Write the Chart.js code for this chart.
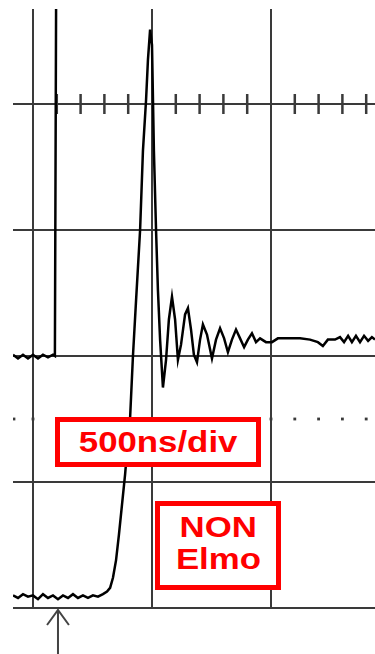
<!DOCTYPE html>
<html>
<head>
<meta charset="utf-8">
<script src="https://cdn.jsdelivr.net/npm/chart.js@4"></script>
<style>
  html, body { margin: 0; padding: 0; background: #fff; }
  #wrap { position: relative; width: 375px; height: 654px; overflow: hidden; }
  .box {
    position: absolute; box-sizing: border-box; border: 5px solid #f00;
    background: #fff; color: #f00; text-align: center;
    font-family: "Liberation Sans", Arial, sans-serif; font-weight: bold; font-size: 29px;
  }
  .box span { display: inline-block; transform: scaleX(1.2); }
  #b1 { left: 55px; top: 417px; width: 206px; height: 50px; line-height: 29px; padding-top: 6px; }
  #b2 { left: 155px; top: 501px; width: 126px; height: 89px; line-height: 32px; padding-top: 5px; }
</style>
</head>
<body>
<div id="wrap">
  <canvas id="scope" width="375" height="654"></canvas>
  <div class="box" id="b1"><span>500ns/div</span></div>
  <div class="box" id="b2"><span>NON</span><br><span>Elmo</span></div>
</div>
<script>
// time in ns, amplitude in divisions
var gridT = [0, 500, 1000];
var gridV = [0, 1, 2, 3, 4];
var minorT = [100, 200, 300, 400, 600, 700, 800, 900, 1100, 1200, 1300, 1400];
var dotT = [-80, 0, 100, 200, 300, 400, 500, 600, 700, 800, 900, 1000, 1100, 1200, 1300, 1400];

// command step (trace 1)
var stepT = [-84, -63, -42, -21, 0, 21, 42, 63, 84, 92, 97];
var stepV = [2.01, 1.98, 2.01, 1.98, 2.01, 1.98, 2.01, 1.99, 2.01, 2.0, 4.76];

// response (trace 2)
var respT = [-84, -63, -42, -21, 0, 21, 42, 63, 84, 105, 126, 147, 168, 189, 210, 231, 252, 273, 294,
  311, 324, 336, 349, 361, 374, 387, 399, 408, 420, 433, 450, 462, 475, 483, 492, 500, 508, 517, 525,
  534, 546, 559, 571, 584, 597, 609, 622, 639, 651, 664, 676, 689, 702, 714, 731, 752, 769, 786, 803,
  819, 836, 853, 870, 887, 903, 920, 937, 954, 979, 1004, 1029, 1080, 1122, 1164, 1197, 1218, 1239,
  1269, 1290, 1307, 1324, 1340, 1357, 1374, 1391, 1408, 1424, 1437];
var respV = [0.10, 0.08, 0.11, 0.09, 0.10, 0.07, 0.11, 0.08, 0.10, 0.07, 0.10, 0.08, 0.11, 0.08, 0.10, 0.08, 0.10, 0.09, 0.11,
  0.13, 0.16, 0.24, 0.38, 0.58, 0.82, 1.06, 1.33, 1.51, 2.00, 2.44, 3.00, 3.63, 4.03, 4.35, 4.59, 4.47, 3.63, 3.00, 2.52,
  2.13, 1.75, 1.97, 2.29, 2.47, 2.29, 1.97, 2.09, 2.33, 2.38, 2.21, 2.01, 1.95, 2.13, 2.25, 2.17, 1.98, 2.13, 2.22, 2.14,
  2.03, 2.13, 2.21, 2.14, 2.07, 2.13, 2.18, 2.11, 2.14, 2.11, 2.11, 2.14, 2.14, 2.14, 2.13, 2.11, 2.08, 2.13,
  2.13, 2.15, 2.11, 2.16, 2.11, 2.16, 2.11, 2.16, 2.12, 2.15, 2.13];

// trigger arrow under the screen
var arrowT = [105, 105];
var arrowV = [-0.02, -0.40];
var headT = [59, 105, 151];
var headV = [-0.135, -0.016, -0.135];

function pts(xs, ys){
  return xs.map(function(x, i){ return {x: x, y: ys[i]}; });
}

function fixed(list){
  return function(axis){
    axis.ticks = list.map(function(v){ return {value: v}; });
  };
}

var gridCol = '#3a3a3a';

var chart = new Chart(document.getElementById('scope'), {
  type: 'scatter',
  data: {
    datasets: [
      {data: pts(stepT, stepV), showLine: true, borderColor: '#000', borderWidth: 2.5, pointRadius: 0},
      {data: pts(respT, respV), showLine: true, borderColor: '#000', borderWidth: 2.5, pointRadius: 0, tension: 0},
      {data: dotT.map(function(t){ return {x: t, y: 1.5}; }), pointStyle: 'rect', pointRadius: 2,
        backgroundColor: gridCol, borderWidth: 0},
      {data: minorT.map(function(t){ return {x: t, y: 4}; }), pointStyle: 'line', rotation: 90, pointRadius: 10,
        borderColor: gridCol, borderWidth: 2.5},
      {data: pts(arrowT, arrowV), showLine: true, borderColor: '#444', borderWidth: 2, pointRadius: 0, clip: false},
      {data: pts(headT, headV), showLine: true, borderColor: '#444', borderWidth: 2, pointRadius: 0, clip: false}
    ]
  },
  options: {
    responsive: false,
    animation: false,
    events: [],
    layout: {autoPadding: false, padding: {left: 13, top: 9, right: 0, bottom: 46}},
    plugins: {legend: {display: false}, tooltip: {enabled: false}},
    scales: {
      x: {
        type: 'linear', min: -84, max: 1437,
        afterBuildTicks: fixed(gridT),
        grid: {color: gridCol, lineWidth: 2, drawTicks: false},
        border: {display: false},
        ticks: {display: false}
      },
      y: {
        type: 'linear', min: 0, max: 4.754,
        afterBuildTicks: fixed(gridV),
        grid: {color: gridCol, lineWidth: 2, drawTicks: false},
        border: {display: false},
        ticks: {display: false}
      }
    }
  }
});
</script>
</body>
</html>
